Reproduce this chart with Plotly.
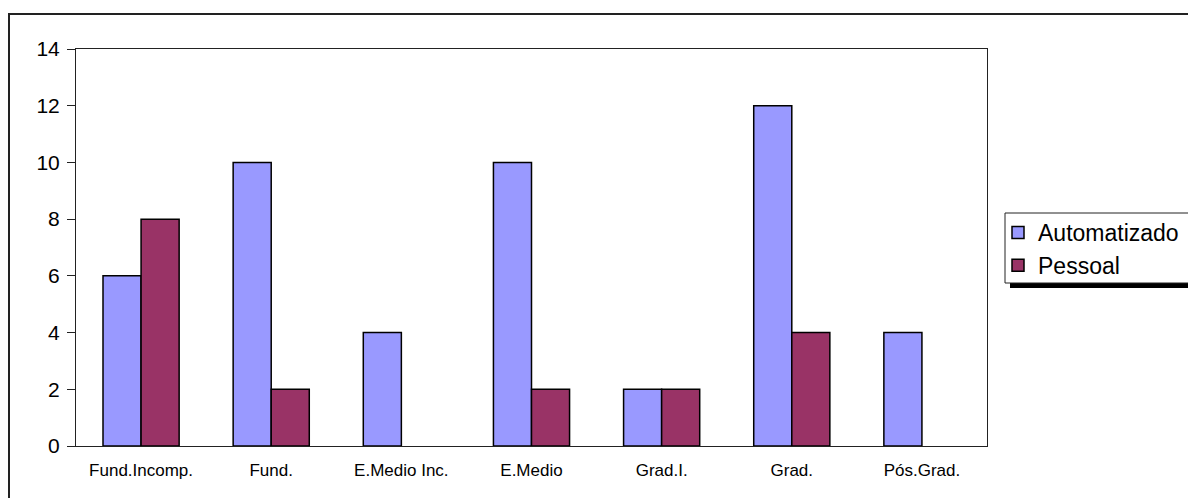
import plotly.graph_objects as go

categories = ["Fund.Incomp.", "Fund.", "E.Medio Inc.", "E.Medio", "Grad.I.", "Grad.", "Pós.Grad."]
automatizado = [6, 10, 4, 10, 2, 12, 4]
pessoal = [8, 2, 0, 2, 2, 4, 0]
y_ticks = [0, 2, 4, 6, 8, 10, 12, 14]

FONT = "Liberation Sans, Arial, sans-serif"
W, H = 1188, 498
L, R, T, B = 76, 987, 49, 446

def px_x(px):
    return (px - L) / (R - L)

def px_y(py):
    return (B - py) / (B - T)

def hide_zero(vals):
    return [v if v != 0 else None for v in vals]

fig = go.Figure()
fig.add_trace(go.Bar(
    x=categories, y=hide_zero(automatizado), name="Automatizado",
    marker=dict(color="#9999FF", line=dict(color="#000000", width=1.5)),
))
fig.add_trace(go.Bar(
    x=categories, y=hide_zero(pessoal), name="Pessoal",
    marker=dict(color="#993366", line=dict(color="#000000", width=1.5)),
))

shapes = [
    # outer chart frame (clipped at right and bottom)
    dict(type="rect", xref="paper", yref="paper",
         x0=px_x(9), x1=px_x(1300), y0=px_y(14), y1=px_y(600),
         line=dict(color="#222222", width=2), layer="below"),
    # legend shadow
    dict(type="rect", xref="paper", yref="paper",
         x0=px_x(1010), x1=px_x(1300), y0=px_y(288), y1=px_y(218),
         line=dict(width=0), fillcolor="#000000", layer="below"),
    dict(type="rect", xref="paper", yref="paper",
         x0=px_x(1005), x1=px_x(1300), y0=px_y(283), y1=px_y(213),
         line=dict(color="#222222", width=1), fillcolor="#FFFFFF", layer="below"),
]

fig.update_layout(
    width=W, height=H,
    margin=dict(l=L, r=W - R, t=T, b=H - B, pad=0, autoexpand=False),
    paper_bgcolor="#FFFFFF", plot_bgcolor="#FFFFFF",
    font=dict(family=FONT, color="#000000"),
    barmode="group", bargap=0.415, bargroupgap=0,
    showlegend=True,
    legend=dict(
        x=px_x(998), y=px_y(211), xanchor="left", yanchor="top",
        bgcolor="rgba(0,0,0,0)", borderwidth=0,
        font=dict(family=FONT, size=23, color="#000000"),
        tracegroupgap=0, itemwidth=30,
    ),
    shapes=shapes,
    xaxis=dict(
        showgrid=False, showline=True, linecolor="#222222", linewidth=1,
        mirror=True, ticks="", tickfont=dict(size=17),
        ticklabelstandoff=9,
    ),
    yaxis=dict(
        range=[0, 14], tickvals=y_ticks, showgrid=False, zeroline=False,
        showline=True, linecolor="#222222", linewidth=1, mirror=True,
        ticks="outside", ticklen=8, tickcolor="#222222",
        tickfont=dict(size=21), ticklabelstandoff=3,
    ),
)

fig.write_html("out.html")
